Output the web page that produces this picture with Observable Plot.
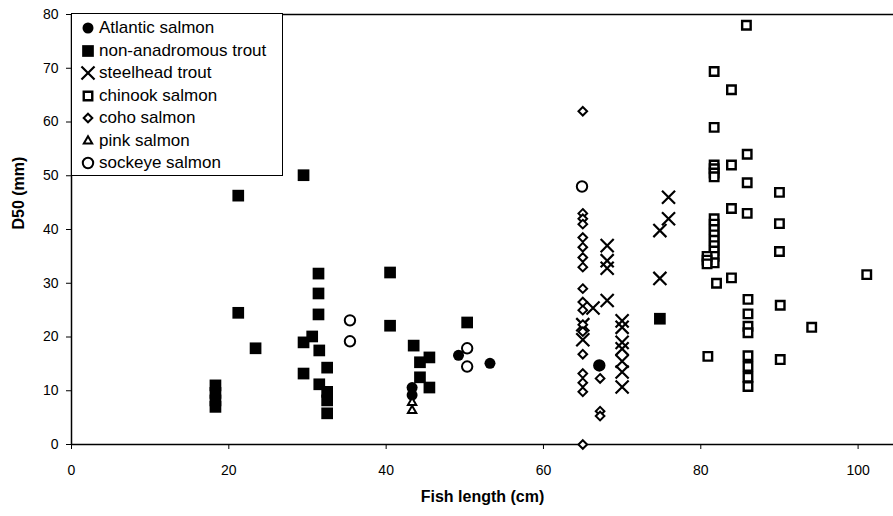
<!DOCTYPE html>
<html><head><meta charset="utf-8">
<script src="https://cdn.jsdelivr.net/npm/d3@7"></script>
<script src="https://cdn.jsdelivr.net/npm/@observablehq/plot@0.6"></script>
<style>
body{margin:0;background:#fff;}
#wrap{position:relative;width:893px;height:516px;font-family:"Liberation Sans",Arial,sans-serif;color:#000;}
#legend{position:absolute;left:71px;top:13px;width:212px;height:163px;border:1.5px solid #000;background:#fff;box-sizing:border-box;padding-top:3px;}
.row{display:flex;align-items:center;height:22.5px;font-size:17px;white-space:nowrap;}
.row svg{margin-left:8px;margin-right:3px;}
</style></head>
<body><div id="wrap"></div>
<script>
// ---- data (fish length cm, D50 mm) ----
const species = ["Atlantic salmon","non-anadromous trout","steelhead trout","chinook salmon","coho salmon","pink salmon","sockeye salmon"];
const xTicks = [0,20,40,60,80,100];
const yTicks = [0,10,20,30,40,50,60,70,80];

const atlantic = [[43.3,10.6],[43.3,9.2],[49.2,16.6],[53.2,15.1],[67.1,14.7]];
const trout = [[18.3,11],[18.3,9.6],[18.3,8.2],[18.3,7],
  [21.2,46.3],[21.2,24.5],[23.4,17.9],
  [29.5,50.1],[29.5,19],[29.5,13.2],[30.6,20.1],
  [31.4,31.8],[31.4,28.1],[31.4,24.2],[31.5,17.5],[31.5,11.2],
  [32.5,14.3],[32.5,9.8],[32.5,8.2],[32.5,5.8],
  [40.5,32],[40.5,22.1],
  [43.5,18.4],[44.3,15.3],[44.3,12.5],[45.5,16.2],[45.5,10.6],
  [50.3,22.7],[74.8,23.4]];
const steelhead = [[65,22.3],[65,19.5],[66.3,25.4],
  [68.1,37],[68.1,34.2],[68.1,32.8],[68.1,26.8],
  [70,23],[70,21.8],[70,19],[70,17.8],[70,15.5],[70,13.5],[70,10.7],
  [74.8,39.8],[75.9,42],[75.9,46],[74.8,30.9]];
const chinook = [[85.8,78],[81.7,69.4],[83.9,66],[81.7,59],[85.9,54],[83.9,52],
  [81.7,52],[81.7,51.3],[81.7,50.5],[81.7,49.8],
  [85.9,48.7],[90,46.9],[83.9,43.9],[85.9,43],[90,41.1],
  [81.7,42],[81.7,41],[81.7,40],[81.7,39],[81.7,38],[81.7,37],[81.7,36],[81.7,35],[81.7,33.8],
  [80.8,35],[80.8,34.3],[80.8,33.6],
  [90,35.9],[101.1,31.6],[82,30],[83.9,31],
  [86,27],[86,24.3],[86,22],[86,20.8],[90.1,25.9],[94.1,21.8],[80.9,16.4],[90.1,15.8],
  [86,16.5],[86,14.5],[86,12.5],[86,10.8]];
const coho = [[65,62],[65,43],[65,42],[65,41],[65,38.5],[65,36.7],[65,34.8],[65,33],
  [65,29],[65,26.5],[65,25],[65,22.3],[65,21],[65,16.8],[65,13.2],[65,11.5],[65,9.8],[65,0],
  [67.2,12.3],[67.2,6.2],[67.2,5.3]];
const pink = [[43.3,6.3],[43.3,7.8]];
const sockeye = [[35.4,23.1],[35.4,19.2],[50.3,17.9],[50.3,14.5],[64.9,48],[67.1,14.7]];

// ---- styles ----
const styles = [
  {data: atlantic, symbol: "circle", fill: "#000", stroke: "none", r: 5.5, sw: 0},
  {data: trout, symbol: "square", fill: "#000", stroke: "none", r: 6.6, sw: 0},
  {data: steelhead, symbol: "times", fill: "none", stroke: "#000", r: 6, sw: 2.2},
  {data: chinook, symbol: "square", fill: "#fff", stroke: "#000", r: 4.8, sw: 2.4},
  {data: coho, symbol: "diamond2", fill: "#fff", stroke: "#000", r: 3.9, sw: 2},
  {data: pink, symbol: "triangle2", fill: "#fff", stroke: "#000", r: 4, sw: 2},
  {data: sockeye, symbol: "circle", fill: "none", stroke: "#000", r: 5.2, sw: 2}
];
const font = "'Liberation Sans', Arial, sans-serif";

const chart = Plot.plot({
  width: 893, height: 516,
  marginLeft: 71, marginRight: 0, marginTop: 14, marginBottom: 72,
  x: {domain: [0, 104.5]},
  y: {domain: [0, 80]},
  style: {fontFamily: font, fontSize: "14px", color: "#000", background: "#fff"},
  marks: [
    Plot.ruleY([80], {stroke: "#000", strokeWidth: 1.5}),
    Plot.axisX({ticks: xTicks, tickSize: 5, tickPadding: 16, fontSize: 14, label: null, stroke: "#000"}),
    Plot.axisY({ticks: yTicks, tickSize: 5, tickPadding: 8, fontSize: 14, label: null, stroke: "#000"}),
    Plot.ruleY([0], {stroke: "#000", strokeWidth: 1.5}),
    Plot.ruleX([0], {stroke: "#000", strokeWidth: 1.5}),
    ...styles.map(s => Plot.dot(s.data, {x: d => d[0], y: d => d[1], symbol: s.symbol, fill: s.fill, stroke: s.stroke, strokeWidth: s.sw, r: s.r})),
    Plot.text(["Fish length (cm)"], {frameAnchor: "bottom", dy: 57, fontWeight: "bold", fontSize: 16}),
    Plot.text(["D50 (mm)"], {frameAnchor: "left", rotate: -90, dx: -53, fontWeight: "bold", fontSize: 16})
  ]
});
const wrap = document.getElementById("wrap");
wrap.appendChild(chart);

// legend
const legend = document.createElement("div");
legend.id = "legend";
species.forEach((name, i) => {
  const s = styles[i];
  const row = document.createElement("div");
  row.className = "row";
  const svg = d3.create("svg").attr("width", 16).attr("height", 16);
  const symMap = {circle: d3.symbolCircle, square: d3.symbolSquare, times: d3.symbolTimes, diamond2: d3.symbolDiamond2, triangle2: d3.symbolTriangle2};
  svg.append("path")
    .attr("transform", "translate(8,8)")
    .attr("d", d3.symbol(symMap[s.symbol], s.r * s.r * Math.PI)())
    .attr("fill", s.fill).attr("stroke", s.stroke).attr("stroke-width", s.sw);
  row.appendChild(svg.node());
  const t = document.createElement("span");
  t.textContent = name;
  row.appendChild(t);
  legend.appendChild(row);
});
wrap.appendChild(legend);
</script>
</body></html>
